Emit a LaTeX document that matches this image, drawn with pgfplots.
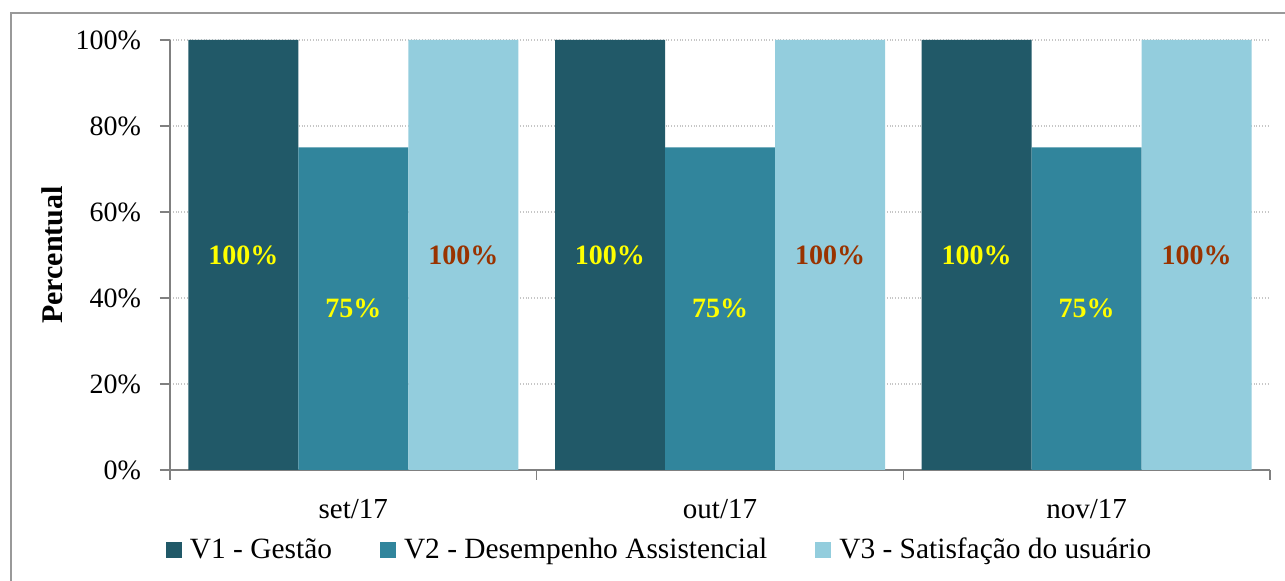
\documentclass[border=0pt]{standalone}
\usepackage{pgfplots}
\pgfplotsset{compat=1.18}
\usepackage{fontspec}
\setmainfont{Liberation Serif}

\definecolor{vone}{HTML}{215968}
\definecolor{vtwo}{HTML}{31859C}
\definecolor{vthree}{HTML}{93CDDD}
\definecolor{lblbrown}{HTML}{993300}
\definecolor{lblyellow}{HTML}{FFFF00}

\begin{document}
\begin{tikzpicture}
\begin{axis}[
    name=ax,
    scale only axis,
    width=550pt, height=215pt,
    ybar=0pt, bar width=0.3,
    xmin=-0.5, xmax=2.5,
    ymin=0, ymax=100,
    axis x line*=bottom, axis y line*=left,
    axis line style={gray, line width=0.8pt},
    xtick={0,1,2},
    xticklabels={set/17, out/17, nov/17},
    minor xtick={-0.5,0.5,1.5,2.5},
    major x tick style={draw=none},
    minor x tick style={gray, line width=0.8pt},
    minor tick length=5pt,
    ytick={0,20,40,60,80,100},
    yticklabel={\pgfmathprintnumber{\tick}\%},
    ytick style={gray, line width=0.8pt},
    major tick length=5pt,
    tick align=outside,
    /pgf/number format/assume math mode=true,
    ymajorgrids,
    grid style={densely dotted, gray!45, line width=0.6pt},
    tick label style={font=\fontsize{14}{17}\selectfont},
    x tick label style={yshift=-6pt, font=\fontsize{14.5}{17}\selectfont},
    y tick label style={xshift=-6pt},
    ylabel={\textbf{Percentual}},
    ylabel style={font=\fontsize{15}{18}\selectfont, at={(rel axis cs:0,0.5)}, anchor=center, yshift=59pt},
    legend style={at={(0.446,-0.186)}, anchor=center, draw=none, fill=none,
        legend columns=3, font=\fontsize{14.7}{17}\selectfont,
        /tikz/every even column/.append style={column sep=22pt}},
    legend image code/.code={\fill[#1] (0pt,-4pt) rectangle (8pt,4pt); \path (10pt,0pt);},
    visualization depends on=y \as \rawy,
    nodes near coords={\textbf{\pgfmathprintnumber{\pgfplotspointmeta}\%}},
    nodes near coords style={font=\fontsize{14}{17}\selectfont, anchor=center,
        shift={(axis direction cs:0,-\rawy/2)}},
]
\addplot[fill=vone, draw=none, every node near coord/.append style={text=lblyellow}]
    coordinates {(0,100) (1,100) (2,100)};
\addplot[fill=vtwo, draw=none, every node near coord/.append style={text=lblyellow}]
    coordinates {(0,75) (1,75) (2,75)};
\addplot[fill=vthree, draw=none, every node near coord/.append style={text=lblbrown}]
    coordinates {(0,100) (1,100) (2,100)};
\legend{V1 - Gestão, V2 - Desempenho Assistencial, V3 - Satisfação do usuário}
\end{axis}
\draw[gray!80, line width=1pt] (ax.south west) ++(-79.5pt,-70pt) |- ++(700pt,298.5pt);
\pgfresetboundingbox
\path (ax.south west) ++(-85pt,-55.5pt) rectangle ++(642.5pt,290.5pt);
\end{tikzpicture}
\end{document}
